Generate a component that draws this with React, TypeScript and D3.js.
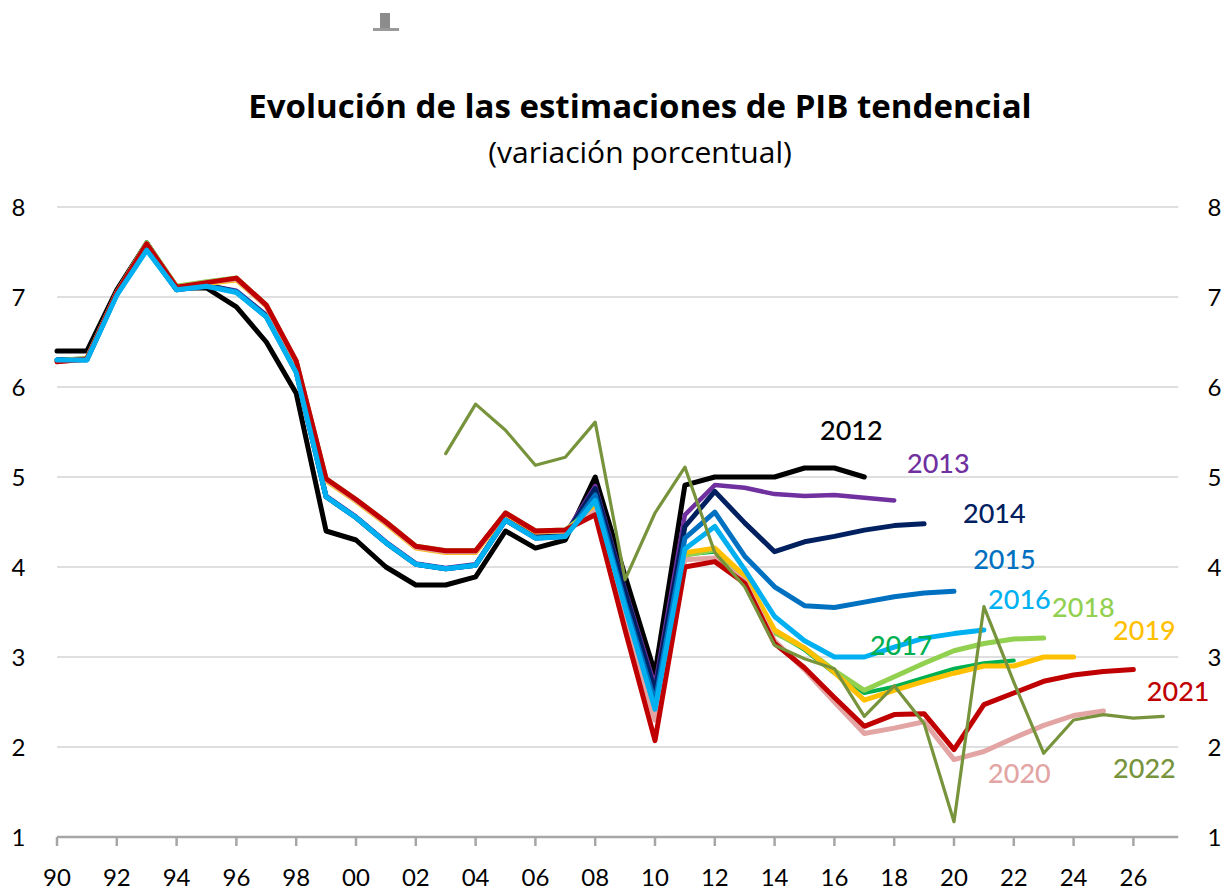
import React from "react";
import * as d3 from "d3";

// ---------- DATA ----------
const xTickYears: number[] = d3.range(1990, 2027, 2);
const xTickLabels: string[] = ["90","92","94","96","98","00","02","04","06","08","10","12","14","16","18","20","22","24","26"];
const yTicks: number[] = [1, 2, 3, 4, 5, 6, 7, 8];

// each vintage: values starting at its start year
const v2012: number[] = [6.40,6.40,7.08,7.60,7.10,7.10,6.89,6.50,5.93,4.40,4.30,4.00,3.80,3.80,3.89,4.40,4.21,4.30,5.00,3.90,2.82,4.91,5.00,5.00,5.00,5.10,5.10,5.00];
const v2013: number[] = [6.30,6.31,7.04,7.55,7.09,7.13,7.07,6.80,6.18,4.79,4.56,4.28,4.04,3.99,4.03,4.53,4.34,4.37,4.90,3.75,2.68,4.58,4.91,4.88,4.81,4.79,4.80,4.77,4.74];
const v2014: number[] = [6.30,6.31,7.03,7.54,7.08,7.13,7.06,6.79,6.17,4.78,4.55,4.27,4.03,3.98,4.02,4.52,4.33,4.35,4.87,3.72,2.62,4.45,4.84,4.49,4.17,4.28,4.34,4.41,4.46,4.48];
const v2015: number[] = [6.30,6.30,7.03,7.53,7.08,7.12,7.06,6.78,6.17,4.78,4.55,4.27,4.03,3.98,4.02,4.52,4.32,4.34,4.80,3.60,2.50,4.32,4.61,4.12,3.78,3.57,3.55,3.61,3.67,3.71,3.73];
const v2016: number[] = [6.30,6.30,7.02,7.52,7.08,7.12,7.05,6.78,6.16,4.78,4.55,4.27,4.03,3.98,4.02,4.52,4.32,4.34,4.74,3.55,2.42,4.20,4.45,3.97,3.45,3.18,3.00,3.00,3.11,3.21,3.26,3.30];
const v2017: number[] = [6.29,6.32,7.06,7.61,7.12,7.17,7.21,6.91,6.29,4.98,4.75,4.50,4.23,4.18,4.18,4.60,4.40,4.41,4.68,3.50,2.35,4.14,4.17,3.86,3.28,3.08,2.82,2.60,2.67,2.77,2.87,2.93,2.96];
const v2018: number[] = [6.29,6.32,7.05,7.60,7.12,7.17,7.21,6.91,6.28,4.98,4.75,4.50,4.23,4.18,4.18,4.60,4.40,4.41,4.66,3.48,2.33,4.13,4.19,3.87,3.27,3.10,2.85,2.63,2.78,2.93,3.07,3.15,3.20,3.21];
const v2019: number[] = [6.29,6.31,7.04,7.58,7.11,7.15,7.19,6.90,6.27,4.96,4.73,4.48,4.21,4.16,4.16,4.59,4.39,4.40,4.65,3.47,2.32,4.16,4.21,3.90,3.30,3.10,2.83,2.52,2.63,2.73,2.82,2.90,2.90,3.00,3.00];
const v2020: number[] = [6.28,6.31,7.05,7.59,7.11,7.16,7.20,6.90,6.28,4.97,4.74,4.49,4.22,4.17,4.17,4.60,4.40,4.40,4.62,3.40,2.30,4.08,4.10,3.84,3.18,2.86,2.50,2.15,2.21,2.28,1.86,1.95,2.10,2.24,2.35,2.40];
const v2021: number[] = [6.28,6.31,7.05,7.59,7.11,7.16,7.21,6.91,6.29,4.98,4.75,4.50,4.23,4.18,4.18,4.60,4.40,4.41,4.58,3.30,2.07,4.00,4.06,3.82,3.15,2.88,2.55,2.23,2.36,2.37,1.97,2.47,2.60,2.73,2.80,2.84,2.86];
const v2022: number[] = [5.26,5.81,5.52,5.13,5.22,5.61,3.86,4.60,5.11,4.16,3.78,3.13,2.98,2.87,2.34,2.68,2.26,1.17,3.56,2.72,1.93,2.30,2.36,2.32,2.34];

const vintageNames: string[] = ["2012","2013","2014","2015","2016","2017","2018","2019","2020","2021","2022"];
const vintageStart: number[] = [1990,1990,1990,1990,1990,1990,1990,1990,1990,1990,2003];
const vintageValues: number[][] = [v2012,v2013,v2014,v2015,v2016,v2017,v2018,v2019,v2020,v2021,v2022];

// ---------- STYLE / LAYOUT ----------
const colors: string[] = ["#000000","#7030A0","#002060","#0070C0","#00B0F0","#00B050","#92D050","#FFC000","#E3A5A4","#C00000","#77933C"];
const widths: number[] = [5,4.5,5,5,5,4,5,5,5,5,3.2];
// drawing order (index into vintages): light blue drawn over the others
const drawOrder: number[] = [0,1,2,3,5,6,7,8,9,4,10];
// label anchor (in data space: year, value at baseline)
const labelPos: [number, number][] = [
  [2015.52, 5.41],[2018.43, 5.044],[2020.30, 4.489],[2020.64, 3.978],[2021.14, 3.533],
  [2017.19, 3.022],[2023.28, 3.444],[2025.32, 3.189],[2021.14, 1.60],[2026.45, 2.511],[2025.32, 1.656]
];

const W = 1229, H = 894;
const FONT = "Lato, 'Open Sans', 'DejaVu Sans', sans-serif";
const TITLE_FONT = "'Open Sans', Lato, 'DejaVu Sans', sans-serif";

export default function App() {
  const x = d3.scaleLinear().domain([1990, 2027.5]).range([57, 1178.25]);
  const y = d3.scaleLinear().domain([1, 8]).range([837, 207]);
  const line = d3.line<[number, number]>().x(d => x(d[0])).y(d => y(d[1]));

  const series = vintageValues.map((vals, i) => vals.map((v, j) => [vintageStart[i] + j, v] as [number, number]));

  return (
    <div>
      <style>{`body{margin:0;background:#fff}`}</style>
      <svg width={W} height={H} style={{ display: "block", fontFamily: FONT }}>
        <rect x={0} y={0} width={W} height={H} fill="#fff" />
        {/* small artifact at top */}
        <rect x={380} y={13} width={10} height={16} fill="#8c8c8c" />
        <rect x={373} y={28} width={26} height={3} fill="#9a9a9a" />

        <text x={640} y={118} textAnchor="middle" fontSize={33} fontWeight={700} fill="#000" style={{ fontFamily: TITLE_FONT }}>
          Evolución de las estimaciones de PIB tendencial
        </text>
        <text x={640} y={163} textAnchor="middle" fontSize={30} fill="#000" style={{ fontFamily: TITLE_FONT }}>
          (variación porcentual)
        </text>

        {/* gridlines */}
        {yTicks.filter(t => t > 1).map(t => (
          <line key={t} x1={x(1990)} x2={x(2027.5)} y1={y(t)} y2={y(t)} stroke="#D4D4D4" strokeWidth={1.6} />
        ))}
        {/* x axis */}
        <line x1={x(1990)} x2={x(2027.5)} y1={y(1)} y2={y(1)} stroke="#A6A6A6" strokeWidth={2.5} />
        {xTickYears.map(t => (
          <line key={t} x1={x(t)} x2={x(t)} y1={y(1)} y2={y(1) + 9} stroke="#A6A6A6" strokeWidth={2.5} />
        ))}
        {xTickYears.map((t, i) => (
          <text key={t} x={x(t)} y={886} textAnchor="middle" fontSize={24} fill="#000">{xTickLabels[i]}</text>
        ))}
        {/* y labels */}
        {yTicks.map(t => (
          <text key={"l" + t} x={18.5} y={y(t) + 8.6} textAnchor="middle" fontSize={24} fill="#000">{t}</text>
        ))}
        {yTicks.map(t => (
          <text key={"r" + t} x={1214.5} y={y(t) + 8.6} textAnchor="middle" fontSize={24} fill="#000">{t}</text>
        ))}

        {/* series */}
        {drawOrder.map(i => (
          <path key={vintageNames[i]} d={line(series[i]) || ""} fill="none" stroke={colors[i]} strokeWidth={widths[i]} strokeLinejoin="round" strokeLinecap="round" />
        ))}

        {/* labels */}
        {vintageNames.map((n, i) => (
          <text key={"t" + n} x={x(labelPos[i][0])} y={y(labelPos[i][1])} fontSize={27} fill={colors[i]} fontWeight={500}>{n}</text>
        ))}
      </svg>
    </div>
  );
}
